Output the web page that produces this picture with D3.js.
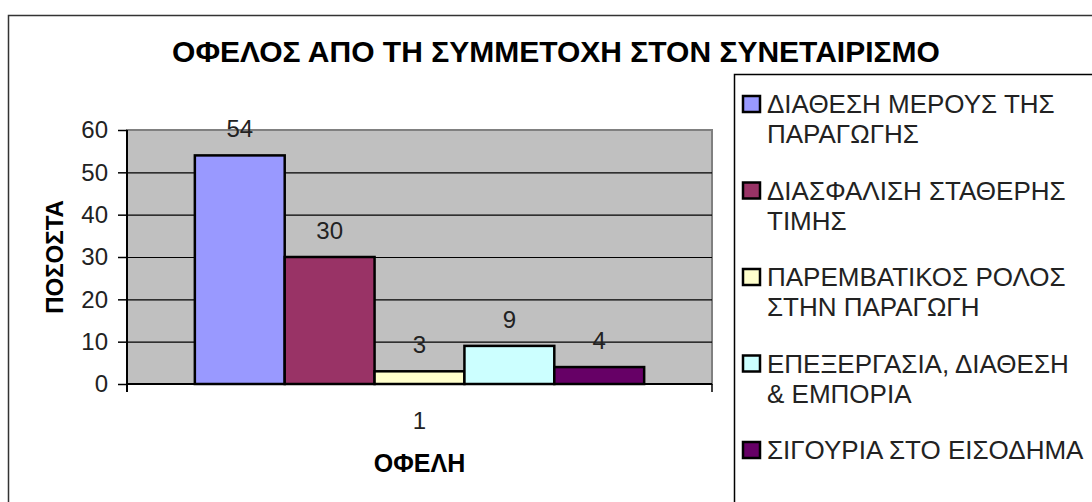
<!DOCTYPE html>
<html>
<head>
<meta charset="utf-8">
<script src="https://d3js.org/d3.v7.min.js"></script>
<style>
  body { margin: 0; background: #fff; }
  svg { font-family: "Liberation Sans", Arial, sans-serif; display: block; }
</style>
</head>
<body>
<div id="chart"></div>
<script>
// chart data
var categories = ["1"];
var seriesNames = [
  "ΔΙΑΘΕΣΗ ΜΕΡΟΥΣ ΤΗΣ\nΠΑΡΑΓΩΓΗΣ",
  "ΔΙΑΣΦΑΛΙΣΗ ΣΤΑΘΕΡΗΣ\nΤΙΜΗΣ",
  "ΠΑΡΕΜΒΑΤΙΚΟΣ ΡΟΛΟΣ\nΣΤΗΝ ΠΑΡΑΓΩΓΗ",
  "ΕΠΕΞΕΡΓΑΣΙΑ, ΔΙΑΘΕΣΗ\n& ΕΜΠΟΡΙΑ",
  "ΣΙΓΟΥΡΙΑ ΣΤΟ ΕΙΣΟΔΗΜΑ"
];
var seriesValues = [54, 30, 3, 9, 4];
var seriesColors = ["#9999ff", "#993366", "#ffffcc", "#ccffff", "#660066"];
var yTicks = [0, 10, 20, 30, 40, 50, 60];

var W = 1092, H = 502;
var plot = {left: 127, right: 712, top: 130, bottom: 384};

var svg = d3.select("#chart").append("svg")
    .attr("width", W)
    .attr("height", H);

// outer chart frame
svg.append("rect")
    .attr("x", 8.5).attr("y", 15.5)
    .attr("width", W + 20).attr("height", H + 20)
    .style("fill", "white")
    .style("stroke", "#333")
    .style("stroke-width", 1.5);

svg.append("text")
    .attr("x", 556).attr("y", 62)
    .attr("text-anchor", "middle")
    .style("font-weight", "bold")
    .style("font-size", "30px")
    .text("ΟΦΕΛΟΣ ΑΠΟ ΤΗ ΣΥΜΜΕΤΟΧΗ ΣΤΟΝ ΣΥΝΕΤΑΙΡΙΣΜΟ");

var y = d3.scaleLinear().domain([0, 60]).range([plot.bottom, plot.top]);
var x = d3.scaleBand().domain(categories)
    .range([plot.left, plot.right])
    .paddingInner(0).paddingOuter(0.151);
var xs = d3.scaleBand().domain(d3.range(seriesValues.length))
    .range([0, x.bandwidth()]);

// plot area
svg.append("rect")
    .attr("x", plot.left).attr("y", plot.top)
    .attr("width", plot.right - plot.left)
    .attr("height", plot.bottom - plot.top)
    .style("fill", "#c0c0c0")
    .style("stroke", "#808080")
    .style("stroke-width", 2);

svg.selectAll("line.grid")
    .data(yTicks.slice(1, -1))
    .enter().append("line")
    .attr("class", "grid")
    .attr("x1", plot.left).attr("x2", plot.right)
    .attr("y1", function(d){ return y(d) + 0.5; })
    .attr("y2", function(d){ return y(d) + 0.5; })
    .style("stroke", "#000")
    .style("stroke-width", 1.2);

// bars
var g = svg.append("g").attr("transform", "translate(" + x(categories[0]) + ",0)");
g.selectAll("rect")
    .data(seriesValues)
    .enter().append("rect")
    .attr("x", function(d, i){ return xs(i); })
    .attr("y", function(d){ return y(d); })
    .attr("width", xs.bandwidth())
    .attr("height", function(d){ return y(0) - y(d); })
    .style("fill", function(d, i){ return seriesColors[i]; })
    .style("stroke", "#000")
    .style("stroke-width", 2.5);

g.selectAll("text")
    .data(seriesValues)
    .enter().append("text")
    .attr("x", function(d, i){ return xs(i) + xs.bandwidth() / 2; })
    .attr("y", function(d){ return y(d) - 18; })
    .attr("text-anchor", "middle")
    .style("font-size", "24px")
    .style("fill", "#222")
    .text(function(d){ return d; });

// y axis
var yAxis = svg.append("g")
    .attr("transform", "translate(" + plot.left + ",0)")
    .call(d3.axisLeft(y).tickValues(yTicks).tickSize(9).tickPadding(10));
yAxis.select(".domain").remove();
yAxis.selectAll(".tick line").style("stroke", "#000").style("stroke-width", 1.5);
yAxis.selectAll(".tick text")
    .style("font-size", "24px")
    .style("fill", "#222")
    .style("font-family", "'Liberation Sans', Arial, sans-serif");

svg.append("line")
    .attr("x1", plot.left).attr("x2", plot.left)
    .attr("y1", plot.top).attr("y2", plot.bottom + 8)
    .style("stroke", "#000").style("stroke-width", 2);

// x axis
svg.append("line")
    .attr("x1", plot.left).attr("x2", plot.right)
    .attr("y1", plot.bottom).attr("y2", plot.bottom)
    .style("stroke", "#000").style("stroke-width", 2);
svg.append("line")
    .attr("x1", plot.right).attr("x2", plot.right)
    .attr("y1", plot.bottom).attr("y2", plot.bottom + 8)
    .style("stroke", "#000").style("stroke-width", 1.5);

svg.selectAll("text.cat")
    .data(categories)
    .enter().append("text")
    .attr("class", "cat")
    .attr("x", function(d){ return x(d) + x.bandwidth() / 2; })
    .attr("y", 429)
    .attr("text-anchor", "middle")
    .style("font-size", "24px")
    .style("fill", "#222")
    .text(function(d){ return d; });

svg.append("text")
    .attr("x", (plot.left + plot.right) / 2).attr("y", 472)
    .attr("text-anchor", "middle")
    .style("font-weight", "bold")
    .style("font-size", "25px")
    .text("ΟΦΕΛΗ");

svg.append("text")
    .attr("transform", "translate(63," + (plot.top + plot.bottom) / 2 + ") rotate(-90)")
    .attr("text-anchor", "middle")
    .style("font-weight", "bold")
    .style("font-size", "24px")
    .text("ΠΟΣΟΣΤΑ");

// legend
svg.append("rect")
    .attr("x", 734.5).attr("y", 74.5)
    .attr("width", 400).attr("height", 450)
    .style("fill", "white")
    .style("stroke", "#000")
    .style("stroke-width", 1.5);

var legend = svg.selectAll("g.legend")
    .data(seriesNames)
    .enter().append("g")
    .attr("class", "legend")
    .attr("transform", function(d, i){ return "translate(742," + (104 + i * 86.5) + ")"; });

legend.append("rect")
    .attr("x", 1).attr("y", -8)
    .attr("width", 17).attr("height", 16)
    .style("fill", function(d, i){ return seriesColors[i]; })
    .style("stroke", "#000")
    .style("stroke-width", 2.5);

legend.append("text")
    .attr("x", 25)
    .attr("y", 9)
    .style("font-size", "26px")
    .style("fill", "#222")
    .selectAll("tspan")
    .data(function(d){ return d.split("\n"); })
    .enter().append("tspan")
    .attr("x", 25)
    .attr("dy", function(d, i){ return i ? 30 : 0; })
    .text(function(d){ return d; });
</script>
</body>
</html>
